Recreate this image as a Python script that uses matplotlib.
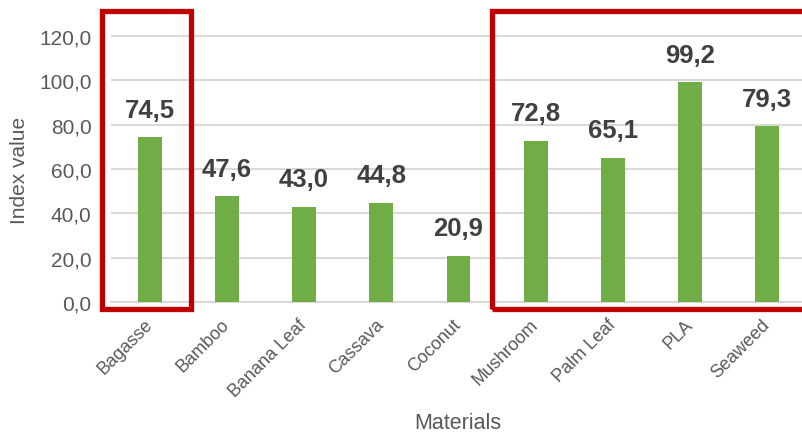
import matplotlib
matplotlib.use("Agg")
import matplotlib.pyplot as plt
from matplotlib.patches import Rectangle

categories = ["Bagasse", "Bamboo", "Banana Leaf", "Cassava", "Coconut",
              "Mushroom", "Palm Leaf", "PLA", "Seaweed"]
values = [74.5, 47.6, 43.0, 44.8, 20.9, 72.8, 65.1, 99.2, 79.3]
yticks = [0, 20, 40, 60, 80, 100, 120]

plt.rcParams['font.family'] = ['Liberation Sans', 'DejaVu Sans']

W, H = 803, 435
fig = plt.figure(figsize=(W/100, H/100), dpi=100)
left_px, right_px, bottom_px = 111, 806, 303
ymax = 125
ppu = (303 - 37) / 120.0
top_px = bottom_px - ymax * ppu
ax = fig.add_axes([left_px/W, (H-bottom_px)/H, (right_px-left_px)/W, (bottom_px-top_px)/H])

x = list(range(len(categories)))
ax.bar(x, values, width=0.31, color='#70AD47', zorder=3)
ax.set_xlim(-0.5, len(categories)-0.5)
ax.set_ylim(0, ymax)
ax.set_yticks(yticks)
ax.set_yticklabels([f"{v:.1f}".replace('.', ',') for v in yticks])
ax.yaxis.grid(True, color='#d9d9d9', linewidth=1.5, zorder=0)
ax.set_axisbelow(True)
for s in ['top', 'right', 'left']:
    ax.spines[s].set_visible(False)
ax.spines['bottom'].set_color('#d9d9d9')
ax.spines['bottom'].set_linewidth(1.5)
ax.tick_params(axis='y', length=0, pad=14, labelsize=15, labelcolor='#595959')
ax.tick_params(axis='x', length=0, pad=14, labelsize=13, labelcolor='#595959')
ax.set_xticks(x)
ax.set_xticklabels(categories, rotation=45, ha='right', va='center', rotation_mode='anchor')

for xi, v in zip(x, values):
    ax.annotate(f"{v:.1f}".replace('.', ','), (xi, v), xytext=(0, 11), textcoords='offset points',
                ha='center', va='bottom', fontsize=18.5, fontweight='bold', color='#404040')

fig.text(20/W, 1 - 170/H, "Index value", rotation=90, ha='center', va='center',
         fontsize=15, color='#595959')
fig.text(458/W, 1 - 424/H, "Materials", ha='center', va='center',
         fontsize=15.5, color='#595959')

# red highlight boxes
lw = 3.8
ax.add_patch(Rectangle((-0.62, -3.2), 1.16, 134.5, fill=False, edgecolor='#C00000',
                       linewidth=lw, clip_on=False, zorder=5))
ax.add_patch(Rectangle((4.44, -3.2), 4.5, 134.5, fill=False, edgecolor='#C00000',
                       linewidth=lw, clip_on=False, zorder=5))

fig.savefig("out.png", dpi=100)
